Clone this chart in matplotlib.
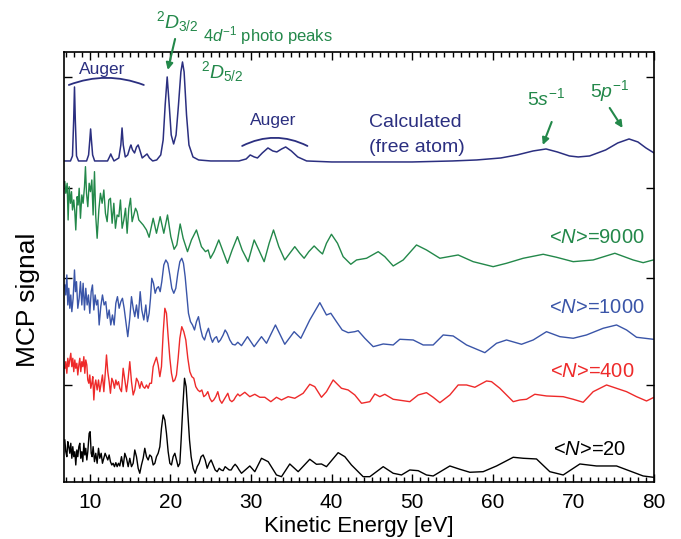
import matplotlib.pyplot as plt

plt.rcParams['font.family'] = ['Liberation Sans', 'DejaVu Sans']
plt.rcParams['mathtext.fontset'] = 'custom'
plt.rcParams['mathtext.rm'] = 'Liberation Sans'
plt.rcParams['mathtext.it'] = 'Liberation Sans:italic'

# (kinetic energy [eV], MCP signal [arb. u., traces stacked])
calc = [(6.8, 321), (7.6, 321), (7.85, 326), (8.0, 362), (8.1, 395), (8.2, 362), (8.35, 326), (8.6, 321),
        (9.6, 321), (9.85, 327), (10.0, 342), (10.1, 353), (10.2, 342), (10.35, 327), (10.6, 321),
        (12.2, 321), (12.5, 326), (12.6, 328), (12.7, 326), (13.0, 321), (13.6, 324), (13.85, 337),
        (14.0, 354), (14.15, 337), (14.4, 325), (14.7, 327), (15.0, 335), (15.1, 337), (15.3, 332),
        (15.55, 329), (15.8, 335), (16.0, 337), (16.2, 332), (16.5, 324), (16.8, 326), (17.1, 328),
        (17.4, 324), (17.8, 321), (18.3, 322), (18.8, 327), (19.1, 342), (19.35, 377), (19.6, 405),
        (19.85, 377), (20.1, 347), (20.4, 338), (20.7, 347), (21.0, 377), (21.3, 410), (21.5, 420),
        (21.7, 410), (22.0, 367), (22.3, 337), (22.8, 325), (23.5, 322), (25.0, 321), (28.5, 321),
        (29.4, 323), (29.9, 327), (30.4, 325), (30.8, 324), (31.4, 329), (32.1, 334), (32.7, 331),
        (33.2, 330), (33.8, 333), (34.3, 335), (35.0, 331), (35.8, 325), (36.9, 321), (40, 320),
        (45, 320), (50, 320), (55, 321), (58, 322), (61, 324), (63, 327), (65, 331), (66.6, 333),
        (68, 330), (69.5, 326), (70.6, 325), (72, 326), (74, 332), (75.5, 339), (76.9, 343),
        (78, 340), (79, 334), (80, 329)]

n9000 = [(6.90, 300.3), (7.02, 288.7), (7.19, 298.7), (7.31, 262), (7.44, 295.3), (7.60, 278.7),
         (7.73, 290.3), (7.85, 272), (8.01, 282), (8.14, 270.3), (8.26, 252), (8.43, 285.3),
         (8.55, 277), (8.68, 293.7), (8.84, 263.7), (9.01, 287), (9.17, 278.7), (9.34, 295.3),
         (9.46, 315.3), (9.59, 288.7), (9.75, 275.3), (9.92, 298.7), (10.08, 290.3), (10.25, 302),
         (10.41, 267), (10.58, 310.3), (10.74, 265.3), (10.91, 243.7), (11.12, 272), (11.32, 288.7),
         (11.53, 278.7), (11.74, 292), (11.94, 268.7), (12.15, 260.3), (12.36, 282), (12.56, 283.7),
         (12.77, 258.7), (12.98, 278.7), (13.18, 253.7), (13.39, 267), (13.60, 265.3), (13.80, 282),
         (14.01, 253.7), (14.22, 262), (14.43, 273.7), (14.63, 248.7), (14.84, 273.7), (15.05, 283.7),
         (15.25, 260.3), (15.46, 267), (15.67, 273.7), (15.87, 270.3), (16.08, 262), (16.62, 257),
         (17.03, 252), (17.36, 244.7), (17.86, 263.7), (18.27, 248.7), (18.73, 265.3), (19.18, 248.7),
         (19.64, 267), (20.05, 245.3), (20.46, 232.7), (20.79, 237), (21.21, 258), (21.58, 243.7),
         (22.12, 230.3), (22.61, 242), (23.23, 252), (23.85, 235.3), (24.35, 230.3), (24.68, 232),
         (24.97, 223.7), (25.42, 230.3), (26.00, 242), (26.54, 230.3), (27.08, 218.7), (27.66, 232),
         (28.32, 245.3), (28.90, 232), (29.64, 220.3), (30.39, 242), (30.97, 232), (31.63, 220.3),
         (32.25, 238.7), (32.79, 252), (33.45, 235.3), (34.19, 222), (34.81, 228.7), (35.43, 235.3),
         (36.05, 228.7), (36.59, 223.7), (37.17, 230.3), (37.83, 236), (38.54, 230.3), (38.87, 228),
         (39.36, 238.7), (39.98, 247.7), (40.73, 238.7), (41.43, 225.3), (42.38, 217.7), (43.09, 222),
         (44.33, 223.7), (45.78, 230.3), (46.60, 225.3), (47.64, 216), (48.88, 222), (50.53, 237),
         (51.77, 232), (53.43, 223.7), (55.70, 227), (57.56, 220.3), (60.04, 215.3), (61.70, 218.7),
         (63.77, 223.7), (66.25, 227.7), (67.90, 224.7), (69.97, 220.3), (72.45, 222), (75.14, 228.7),
         (77.41, 222), (78.65, 219.3), (79.90, 222)]

n1000 = [(6.90, 197), (7.02, 187), (7.15, 207), (7.27, 177), (7.39, 193.7), (7.52, 173.7), (7.64, 187),
         (7.77, 170.3), (7.93, 183.7), (8.10, 212), (8.22, 190.3), (8.35, 200.3), (8.51, 173.7),
         (8.68, 183.7), (8.84, 200.3), (9.01, 177), (9.17, 198.7), (9.34, 172), (9.50, 193.7),
         (9.67, 177), (9.83, 187), (10.00, 168.7), (10.17, 190.3), (10.33, 197), (10.50, 172),
         (10.66, 187), (10.83, 177), (10.99, 182), (11.16, 157), (11.36, 175.3), (11.57, 187),
         (11.78, 177), (11.98, 180.3), (12.19, 163.7), (12.40, 172), (12.60, 157), (12.81, 167),
         (13.02, 157), (13.23, 178.7), (13.43, 185.3), (13.64, 173.7), (13.85, 180.3), (14.05, 183.7),
         (14.26, 173.7), (14.47, 160.3), (14.71, 145.3), (14.96, 163.7), (15.17, 185.3), (15.38, 173.7),
         (15.58, 165.3), (15.79, 177), (16.00, 163.7), (16.25, 190.3), (16.45, 172), (16.70, 162),
         (16.95, 177), (17.15, 160.3), (17.36, 168.7), (17.53, 183.7), (17.69, 203.7), (17.90, 198.7),
         (18.11, 188.7), (18.31, 193.7), (18.52, 195.3), (18.73, 190.3), (18.93, 200.3), (19.18, 217),
         (19.43, 222), (19.68, 218.7), (19.93, 207), (20.17, 193.7), (20.42, 188.7), (20.67, 193.7),
         (20.92, 208.7), (21.17, 220.3), (21.41, 223.7), (21.62, 218.7), (21.83, 205.3), (22.03, 187),
         (22.24, 168.7), (22.49, 160.3), (22.74, 157), (22.99, 152), (23.23, 160.3), (23.48, 165.3),
         (23.73, 153.7), (23.98, 145.3), (24.23, 142), (24.47, 148.7), (24.72, 153.7), (24.97, 145.3),
         (25.22, 139.7), (25.47, 143.7), (25.72, 145.3), (25.96, 139.7), (26.21, 142), (26.54, 147),
         (26.79, 152), (27.04, 148.7), (27.37, 142), (27.70, 137.7), (28.03, 137), (28.36, 139.7),
         (28.82, 136.3), (29.56, 145.3), (30.39, 135.3), (31.30, 145.3), (31.92, 138.7), (33.03, 157),
         (34.19, 137.7), (35.35, 150.3), (36.18, 143.7), (37.29, 162), (38.54, 179.3), (39.36, 167),
         (39.90, 168.7), (40.60, 160.3), (41.31, 152), (42.05, 149.3), (42.88, 150.3), (43.29, 151.3),
         (44.12, 143.7), (45.16, 135.3), (46.40, 138), (47.64, 137), (48.46, 142.7), (50.12, 142),
         (51.36, 137), (52.60, 137), (53.84, 147), (55.08, 146), (56.74, 137), (59.01, 129.3),
         (60.46, 138.7), (61.70, 142), (63.56, 137.7), (65.01, 142), (66.66, 150.3), (68.32, 145.3),
         (69.97, 143.7), (71.62, 147), (73.69, 153.7), (75.35, 157), (76.59, 152), (77.83, 144.7),
         (79.90, 142.7)]

n400 = [(6.90, 113.7), (7.02, 120.3), (7.15, 108.7), (7.27, 123.7), (7.39, 115.3), (7.52, 122),
        (7.64, 128.7), (7.77, 115.3), (7.89, 123.7), (8.01, 110.3), (8.14, 122), (8.26, 113.7),
        (8.39, 118.7), (8.51, 107), (8.64, 117), (8.76, 123.7), (8.88, 110.3), (9.01, 120.3),
        (9.13, 115.3), (9.26, 125.3), (9.38, 108.7), (9.50, 122), (9.63, 117), (9.75, 102),
        (9.88, 98.7), (10.00, 107), (10.12, 93.7), (10.25, 98.7), (10.37, 105.3), (10.50, 82),
        (10.62, 97), (10.74, 102), (10.91, 92), (11.08, 102), (11.24, 90.3), (11.41, 98.7),
        (11.57, 107), (11.74, 90.3), (11.90, 107), (12.07, 127), (12.23, 110.3), (12.40, 100.3),
        (12.56, 88.7), (12.73, 103.7), (12.89, 100.3), (13.06, 93.7), (13.23, 102), (13.39, 97),
        (13.56, 100.3), (13.72, 93.7), (13.93, 90.3), (14.14, 113.7), (14.34, 102), (14.55, 90.3),
        (14.76, 103.7), (14.96, 120.3), (15.17, 100.3), (15.38, 87), (15.58, 92), (15.79, 103.7),
        (16.00, 100.3), (16.20, 93.7), (16.41, 100.3), (16.62, 95.3), (16.82, 93.7), (17.03, 97),
        (17.24, 93.7), (17.44, 98.7), (17.65, 98.7), (17.86, 115.3), (18.07, 120.3), (18.27, 124.7),
        (18.48, 117), (18.69, 105.3), (18.89, 115.3), (19.10, 148.7), (19.31, 173.7), (19.51, 168.7),
        (19.72, 145.3), (19.93, 123.7), (20.13, 108.7), (20.34, 100.3), (20.55, 102), (20.75, 107),
        (20.96, 123.7), (21.17, 143.7), (21.41, 155.3), (21.66, 150.3), (21.91, 142), (22.16, 123.7),
        (22.41, 110.3), (22.66, 105.3), (22.90, 103.7), (23.15, 95.3), (23.40, 92), (23.65, 90.3),
        (23.90, 92), (24.14, 85.3), (24.39, 87), (24.64, 90.3), (24.89, 83.7), (25.14, 80.3),
        (25.38, 82), (25.63, 85.3), (25.88, 90.3), (26.13, 82), (26.38, 78.7), (26.63, 82),
        (26.87, 85.3), (27.12, 88.7), (27.37, 82), (27.62, 80.3), (27.87, 82), (28.11, 85.3),
        (28.36, 88), (28.61, 86), (29.23, 89.7), (29.85, 85.3), (30.47, 87.7), (31.09, 84.7),
        (31.71, 84.7), (32.46, 80.3), (33.16, 84.7), (33.78, 82), (34.61, 85.3), (35.43, 83.7),
        (36.47, 88.7), (37.29, 97.7), (37.91, 95.3), (38.74, 84.7), (39.36, 90.3), (40.19, 102),
        (41.22, 93.7), (42.05, 92), (42.88, 87), (43.71, 78.7), (44.74, 80.3), (45.36, 88),
        (45.98, 85.3), (46.60, 87.7), (47.64, 82.7), (48.88, 81.3), (49.70, 80.3), (50.74, 87),
        (51.77, 89.3), (52.60, 84.7), (53.43, 79.3), (54.67, 87), (55.70, 97), (56.74, 97),
        (57.77, 94.7), (59.22, 101), (59.84, 100.3), (60.87, 93.7), (62.53, 80.3), (63.35, 82),
        (64.18, 82.7), (65.21, 87.7), (66.66, 86), (68.73, 85.3), (69.97, 82.7), (71.21, 79.7),
        (72.45, 90.3), (74.11, 97), (75.35, 93.7), (76.59, 90.3), (77.83, 85.3), (79.07, 81),
        (79.90, 84.3)]

n20 = [(6.90, 42), (7.02, 30.3), (7.15, 25.3), (7.27, 40.3), (7.39, 35.3), (7.52, 28.7), (7.64, 38.7),
       (7.77, 23.7), (7.89, 35.3), (8.01, 25.3), (8.14, 30.3), (8.26, 17), (8.39, 32), (8.51, 25.3),
       (8.64, 35.3), (8.76, 38.7), (8.88, 23.7), (9.01, 30.3), (9.13, 20.3), (9.26, 38.7), (9.38, 27),
       (9.50, 33.7), (9.63, 22), (9.75, 30.3), (9.92, 48.7), (10.04, 50.3), (10.17, 28.7), (10.29, 25.3),
       (10.41, 35.3), (10.58, 20.3), (10.74, 28.7), (10.91, 18.7), (11.08, 33.7), (11.24, 23.7),
       (11.41, 28.7), (11.57, 18.7), (11.74, 23.7), (11.90, 28.7), (12.07, 25.3), (12.23, 22),
       (12.40, 27), (12.56, 20.3), (12.73, 17), (12.89, 18.7), (13.06, 15.3), (13.23, 19.3),
       (13.39, 15.3), (13.56, 18.7), (13.72, 16), (13.93, 25.3), (14.14, 15.3), (14.34, 28.7),
       (14.55, 23.7), (14.76, 15.3), (14.96, 23.7), (15.17, 15.3), (15.38, 18.7), (15.58, 32),
       (15.79, 25.3), (16.00, 13.7), (16.20, 8.7), (16.41, 17), (16.62, 23.7), (16.82, 33.7),
       (17.03, 25.3), (17.24, 22), (17.44, 27), (17.65, 25.3), (17.86, 17), (18.07, 18.7),
       (18.27, 25.3), (18.48, 28.7), (18.69, 35.3), (18.89, 53.7), (19.10, 67), (19.31, 62),
       (19.51, 48.7), (19.72, 30.3), (19.93, 18.7), (20.13, 17), (20.34, 25.3), (20.55, 28.7),
       (20.75, 22), (20.96, 15.3), (21.17, 18.7), (21.33, 42), (21.54, 75.3), (21.75, 103.7),
       (21.95, 95.3), (22.16, 68.7), (22.37, 42), (22.57, 25.3), (22.82, 13.7), (23.07, 8.7),
       (23.32, 15.3), (23.56, 18.7), (23.81, 25.3), (24.06, 27), (24.31, 22), (24.56, 13.7),
       (24.80, 18.7), (25.05, 22), (25.30, 17), (25.55, 12), (25.80, 10.3), (26.05, 13.7), (26.30, 12),
       (26.54, 11.3), (26.79, 15.3), (27.04, 13.7), (27.29, 12), (27.54, 12), (27.78, 15.3),
       (28.03, 17.7), (28.28, 15.3), (28.53, 12), (28.82, 8.7), (29.85, 16), (30.47, 10.3),
       (31.30, 23.7), (32.13, 20.3), (33.16, 7), (33.78, 5.3), (34.81, 18), (35.85, 10.3),
       (37.29, 22.7), (38.12, 17.7), (38.74, 18), (39.36, 15.3), (40.81, 29.3), (41.64, 25.3),
       (42.46, 17), (43.91, 5.3), (44.74, 5.3), (46.40, 15.3), (47.64, 8.7), (48.67, 7), (49.70, 12),
       (50.74, 11.3), (51.77, 7), (52.60, 6), (54.67, 16), (55.91, 12.7), (57.15, 9.7), (58.80, 10.3),
       (60.46, 16), (62.53, 24.7), (63.77, 23.7), (65.42, 23), (67.07, 10.3), (68.73, 7), (70.80, 18),
       (72.86, 16), (75.35, 16), (77.00, 11), (78.65, 6), (79.90, 4.7)]

navy = '#2b2f80'
green = '#23884a'
blue = '#3a55a8'
red = '#ee2a2a'

fig = plt.figure(figsize=(6.81, 5.39), dpi=100)
ax = fig.add_axes([0.094, 0.1058, 0.8664, 0.7978])

for pts, col, lw in [(calc, navy, 1.1), (n9000, green, 1.0), (n1000, blue, 1.0),
                     (n400, red, 1.0), (n20, 'black', 1.0)]:
    ev, sig = zip(*pts)
    ax.plot(ev, sig, color=col, lw=lw)

ax.set_xlim(6.8, 80)
ax.set_ylim(0, 430)
ax.set_xticks(range(10, 81, 10))
ax.set_xticks(range(7, 81), minor=True)
ax.set_yticks([97, 204, 294, 405])
ax.set_yticklabels([])
ax.tick_params(which='both', direction='in', top=True, right=True, width=1)
ax.tick_params(which='major', length=6, labelsize=15, pad=8)
ax.tick_params(which='minor', length=3.5)
for s in ax.spines.values():
    s.set_linewidth(1.2)

ax.set_xlabel('Kinetic Energy [eV]', fontsize=16, labelpad=3)
fig.text(0.041, 0.443, 'MCP signal', rotation=90, fontsize=19, ha='center', va='center')

# annotations
ax.text(11.5, 408, 'Auger', color=navy, fontsize=12.5, ha='center', va='baseline')
ax.annotate('', xy=(16.7, 397), xytext=(7.4, 397),
            arrowprops=dict(arrowstyle='-', color=navy, lw=1.3, shrinkA=0, shrinkB=0,
                            connectionstyle='arc3,rad=-0.19'))
ax.text(32.8, 357, 'Auger', color=navy, fontsize=12.5, ha='center', va='baseline')
ax.annotate('', xy=(37.0, 336), xytext=(28.9, 336),
            arrowprops=dict(arrowstyle='-', color=navy, lw=1.3, shrinkA=0, shrinkB=0,
                            connectionstyle='arc3,rad=-0.25'))
ax.text(44.6, 355, 'Calculated', color=navy, fontsize=14, ha='left', va='baseline')
ax.text(44.6, 330, '(free atom)', color=navy, fontsize=14, ha='left', va='baseline')

ax.text(20.9, 454, r'$^{2}D_{3/2}$', color=green, fontsize=14, ha='center', va='baseline',
        clip_on=False)
ax.text(32.1, 441, r'4$d^{-1}$ photo peaks', color=green, fontsize=12, ha='center',
        va='baseline', clip_on=False)
ax.text(26.4, 404, r'$^{2}D_{5/2}$', color=green, fontsize=14, ha='center', va='baseline')
ax.annotate('', xy=(19.67, 412), xytext=(20.58, 443), annotation_clip=False,
            arrowprops=dict(arrowstyle='-|>', color=green, lw=1.5, mutation_scale=10,
                            shrinkA=0, shrinkB=0))
ax.text(66.6, 377, r'5$s^{-1}$', color=green, fontsize=14, ha='center', va='baseline')
ax.annotate('', xy=(66.2, 337), xytext=(67.3, 360),
            arrowprops=dict(arrowstyle='-|>', color=green, lw=1.5, mutation_scale=10,
                            shrinkA=0, shrinkB=0))
ax.text(74.5, 385, r'5$p^{-1}$', color=green, fontsize=14, ha='center', va='baseline')
ax.annotate('', xy=(76.1, 354), xytext=(74.5, 374),
            arrowprops=dict(arrowstyle='-|>', color=green, lw=1.5, mutation_scale=10,
                            shrinkA=0, shrinkB=0))

ax.text(78.9, 239, r'<$N$>=9000', color=green, fontsize=14.5, ha='right', va='baseline')
ax.text(78.9, 169, r'<$N$>=1000', color=blue, fontsize=14.5, ha='right', va='baseline')
ax.text(77.6, 105, r'<$N$>=400', color=red, fontsize=14.5, ha='right', va='baseline')
ax.text(76.6, 27, r'<$N$>=20', color='black', fontsize=14.5, ha='right', va='baseline')

fig.savefig('out.png', dpi=100)
